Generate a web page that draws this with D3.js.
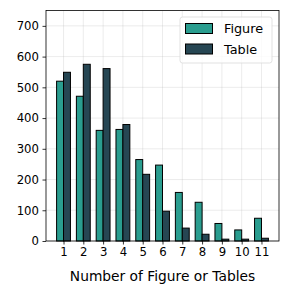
<!DOCTYPE html>
<html>
<head>
<meta charset="utf-8">
<script src="https://cdn.jsdelivr.net/npm/d3@7"></script>
<style>
  body { margin: 0; background: #fff; }
  svg { display: block; font-family: 'DejaVu Sans', sans-serif; }
</style>
</head>
<body>
<svg id="chart" width="288" height="294"></svg>
<script>
'use strict';

// counts per number of figures/tables
const categories = [1, 2, 3, 4, 5, 6, 7, 8, 9, 10, 11];
const figureCounts = [520, 471, 360, 363, 265, 247, 158, 126, 57, 36, 74];
const tableCounts = [549, 575, 561, 379, 217, 97, 42, 22, 6, 6, 9];
const yTicks = [0, 100, 200, 300, 400, 500, 600, 700];
const seriesNames = ['Figure', 'Table'];
const seriesColors = ['#2a9d8f', '#264653'];

const margin = {left: 46, right: 9, top: 10.5, bottom: 53};
const width = 288, height = 294;
const barW = 0.35;
const tickFont = 11.7, legendFont = 12.8, labelFont = 13.8;

const svg = d3.select('#chart');

const x = d3.scaleLinear()
  .domain([0.115, 11.885])
  .range([margin.left, width - margin.right]);
const y = d3.scaleLinear()
  .domain([0, 750])
  .range([height - margin.bottom, margin.top]);

// grid
const grid = svg.append('g').attr('stroke', '#b0b0b0').attr('stroke-opacity', 0.3).attr('stroke-width', 0.8);
grid.selectAll('line.vx').data(categories).join('line')
  .attr('x1', d => x(d)).attr('x2', d => x(d))
  .attr('y1', y(0)).attr('y2', y(750));
grid.selectAll('line.hy').data(yTicks).join('line')
  .attr('y1', d => y(d)).attr('y2', d => y(d))
  .attr('x1', x.range()[0]).attr('x2', x.range()[1]);

// bars
const series = [figureCounts, tableCounts];
series.forEach((vals, i) => {
  svg.append('g').selectAll('rect').data(vals).join('rect')
    .attr('x', (d, j) => x(categories[j] + (i === 0 ? -barW : 0)))
    .attr('width', x(barW) - x(0))
    .attr('y', d => y(d))
    .attr('height', d => y(0) - y(d))
    .attr('fill', seriesColors[i])
    .attr('stroke', '#000')
    .attr('stroke-width', 1);
});

// axes
const xAxis = svg.append('g')
  .attr('transform', `translate(0,${y(0)})`)
  .call(d3.axisBottom(x).tickValues(categories).tickSize(3.5).tickPadding(3.5));
const yAxis = svg.append('g')
  .attr('transform', `translate(${margin.left},0)`)
  .call(d3.axisLeft(y).tickValues(yTicks).tickSize(3.5).tickPadding(3.5));

[xAxis, yAxis].forEach(a => {
  a.select('.domain').remove();
  a.attr('font-size', null).attr('font-family', null);
  a.selectAll('text').style('font-size', tickFont + 'px').attr('fill', '#000');
  a.selectAll('line').attr('stroke', '#000').attr('stroke-width', 0.8);
});

// frame
svg.append('rect')
  .attr('x', x.range()[0]).attr('y', y(750))
  .attr('width', x.range()[1] - x.range()[0])
  .attr('height', y(0) - y(750))
  .attr('fill', 'none').attr('stroke', '#000').attr('stroke-width', 0.8);

// x label
svg.append('text')
  .attr('x', (x.range()[0] + x.range()[1]) / 2)
  .attr('y', 281)
  .attr('text-anchor', 'middle')
  .style('font-size', labelFont + 'px')
  .text('Number of Figure or Tables');

// legend
const legend = svg.append('g');
legend.append('rect')
  .attr('x', 180).attr('y', 17).attr('width', 92).attr('height', 46)
  .attr('rx', 2.5)
  .attr('fill', '#fff').attr('fill-opacity', 0.8)
  .attr('stroke', '#d9d9d9').attr('stroke-width', 0.8);
seriesNames.forEach((name, i) => {
  const ly = 23.5 + i * 20.5;
  legend.append('rect')
    .attr('x', 185.5).attr('y', ly).attr('width', 27).attr('height', 10)
    .attr('fill', seriesColors[i]).attr('stroke', '#000').attr('stroke-width', 1);
  legend.append('text')
    .attr('x', 224).attr('y', ly + 9.8)
    .style('font-size', legendFont + 'px')
    .text(name);
});
</script>
</body>
</html>
